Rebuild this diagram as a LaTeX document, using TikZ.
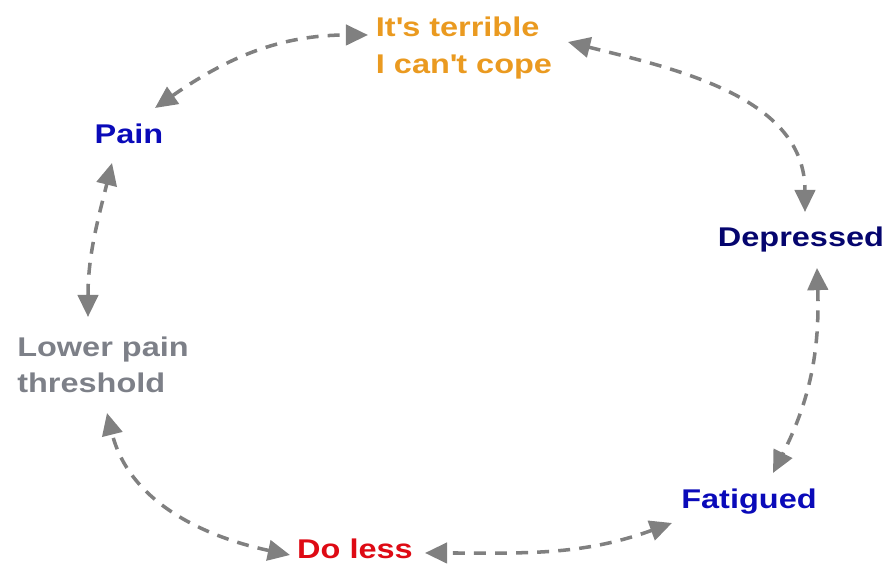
\documentclass[tikz,border=0pt]{standalone}
\usepackage{fontspec}
\setmainfont{Liberation Sans}[FakeStretch=1.2]
\usetikzlibrary{arrows.meta}

\definecolor{copeorange}{RGB}{234,154,32}
\definecolor{painblue}{RGB}{10,10,185}
\definecolor{depnavy}{RGB}{5,5,110}
\definecolor{lowgray}{RGB}{125,128,136}
\definecolor{lessred}{RGB}{222,10,20}
\definecolor{linkgray}{RGB}{128,128,128}

\begin{document}
\begin{tikzpicture}[
        feeling/.style={inner sep=0pt, align=left, font=\bfseries\fontsize{7.7}{10.3}\selectfont},
        arrow/.style={{Triangle[length=6.3pt,width=5.8pt]}-{Triangle[length=6.3pt,width=5.8pt]}, line width=1pt, dash pattern=on 3.4pt off 2.6pt, draw=linkgray}
    ]
    \useasboundingbox (0,0) rectangle (8.88,-5.64);

    % Feelings
    \node[feeling, text=copeorange] (Cope) at (4.64,-0.48) {It\textquotesingle s terrible\\I can\textquotesingle t cope};
    \node[feeling, text=painblue] (Pain) at (1.29,-1.34) {Pain};
    \node[feeling, text=depnavy] (Depressed) at (8.01,-2.40) {Depressed};
    \node[feeling, text=lowgray] (Threshold) at (1.03,-3.65) {Lower pain\\threshold};
    \node[feeling, text=lessred] (DoLess) at (3.55,-5.49) {Do less};
    \node[feeling, text=painblue] (Fatigued) at (7.49,-5.02) {Fatigued};

    % Cycle
    \draw[arrow] ([shift={(0.26,0.26)}]Pain.center) to[out=35, in=180] ([shift={(-0.96,0.13)}]Cope.center);
    \draw[arrow] ([shift={(1.04,0.06)}]Cope.center) to[out=-14, in=90] ([shift={(0.04,0.28)}]Depressed.center);
    \draw[arrow] ([shift={(0.16,-0.28)}]Depressed.center) to[out=-88, in=63] ([shift={(0.24,0.29)}]Fatigued.center);
    \draw[arrow] ([shift={(-0.77,-0.21)}]Fatigued.center) to[out=200, in=0] ([shift={(0.70,-0.04)}]DoLess.center);
    \draw[arrow] ([shift={(-0.65,-0.06)}]DoLess.center) to[out=168, in=-76] ([shift={(0.04,-0.48)}]Threshold.center);
    \draw[arrow] ([shift={(-0.15,0.48)}]Threshold.center) to[out=90, in=-104] ([shift={(-0.17,-0.29)}]Pain.center);

\end{tikzpicture}
\end{document}
